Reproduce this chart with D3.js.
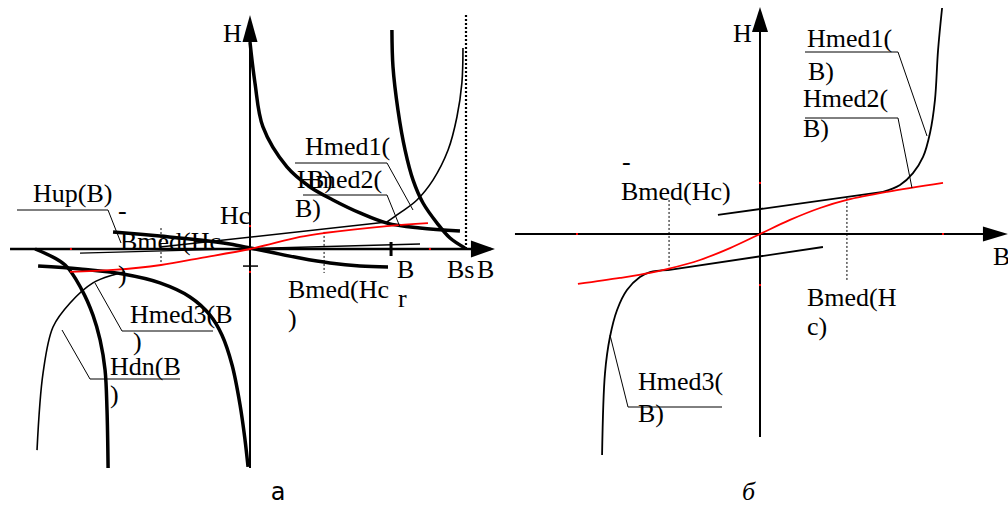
<!DOCTYPE html>
<html>
<head>
<meta charset="utf-8">
<script src="https://cdn.jsdelivr.net/npm/d3@7"></script>
<style>
  html, body { margin: 0; padding: 0; background: #fff; }
  svg { display: block; }
  .lbl { font-family: "Liberation Serif", "Times New Roman", serif; font-size: 26px; fill: #000; }
</style>
</head>
<body>
<svg id="chart" width="1008" height="506"></svg>
<script>
// ---------- Panel a: branches in normalised units [B/Bs, H] ----------
const aHmedUpper   = [[0,0.958],[0.023,0.769],[0.060,0.565],[0.171,0.380],[0.278,0.287],[0.384,0.227],[0.509,0.167],[0.634,0.120],[0.787,0.097],[0.972,0.083]];
const aHmedLower   = [[-0.981,-0.079],[-0.787,-0.093],[-0.588,-0.116],[-0.417,-0.157],[-0.278,-0.222],[-0.185,-0.306],[-0.130,-0.398],[-0.083,-0.537],[-0.046,-0.722],[-0.023,-0.884],[-0.009,-1.009]];
const aSteepRight  = [[0.657,1.014],[0.662,0.843],[0.685,0.644],[0.718,0.458],[0.755,0.319],[0.801,0.213],[0.866,0.120],[0.926,0.051],[0.995,0.005]];
const aSteepLeft   = [[-0.995,0],[-0.856,-0.074],[-0.778,-0.190],[-0.727,-0.306],[-0.694,-0.421],[-0.671,-0.560],[-0.662,-0.745],[-0.657,-1.014]];
const aHup         = [[-0.634,0.079],[-0.417,0.060],[-0.231,0.042],[-0.093,0.023],[0,0.005],[0.093,-0.014],[0.231,-0.042],[0.370,-0.065],[0.509,-0.079],[0.639,-0.083]];
const aBmedRed     = [[-0.833,-0.106],[-0.634,-0.097],[-0.412,-0.074],[-0.231,-0.042],[0,0],[0.231,0.056],[0.343,0.074],[0.634,0.106],[0.824,0.120]];
const aThinUpper   = [[0.986,0.931],[0.981,0.769],[0.958,0.611],[0.917,0.458],[0.847,0.319],[0.773,0.227],[0.694,0.167],[0.634,0.125]];
const aThinUpperTangent = [[0.634,0.125],[-0.417,0.009]];
const aThinLower   = [[-0.986,-0.931],[-0.958,-0.574],[-0.912,-0.361],[-0.833,-0.250],[-0.727,-0.157],[-0.634,-0.120],[-0.579,-0.106]];
const aChord       = [[-0.787,-0.019],[0.787,0.023]];
const aBsLine      = [[1,0],[1,1.083]];
const aBmedMinus   = [[-0.412,0.097],[-0.412,-0.074]];
const aBmedPlus    = [[0.343,0.079],[0.343,-0.111]];
const aBr          = 0.653;
const aHcNeg       = -0.079;
const aRedTicksB   = [-0.829, 0.833];
const aRedTicksH   = [0.106, -0.106];
const aBRange      = [-1.111, 1.134];
const aHRange      = [-1.014, 1.083];

// ---------- Panel б ----------
const bBmedRed     = [[-0.995,-0.273],[-0.765,-0.240],[-0.601,-0.213],[-0.503,-0.191],[-0.328,-0.142],[-0.164,-0.077],[0,0],[0.164,0.077],[0.328,0.142],[0.475,0.186],[0.694,0.230],[1.0,0.279]];
const bUpperTangent = [[-0.230,0.104],[0.672,0.230]];
const bHmed1       = [[0.672,0.230],[0.765,0.268],[0.836,0.333],[0.891,0.421],[0.929,0.552],[0.956,0.732],[0.973,1.005],[0.995,1.235]];
const bLowerTangent = [[0.344,-0.071],[-0.503,-0.197]];
const bHmed3       = [[-0.503,-0.197],[-0.601,-0.208],[-0.656,-0.235],[-0.727,-0.306],[-0.781,-0.415],[-0.820,-0.563],[-0.847,-0.760],[-0.863,-1.208]];
const bBmedMinus   = [[-0.497,0.186],[-0.497,-0.197]];
const bBmedPlus    = [[0.475,0.197],[0.475,-0.251]];
const bRedTicksB   = [-1, 1];
const bRedTicksH   = [0.279, -0.279];
const bBRange      = [-1.339, 1.355];
const bHRange      = [-1.109, 1.240];

const svg = d3.select("#chart");

// scales of each panel
const ax = d3.scaleLinear().domain([-1, 1]).range([34, 466]);
const ay = d3.scaleLinear().domain([-1, 1]).range([465, 33]);
const bx = d3.scaleLinear().domain([-1, 1]).range([577, 943]);
const by = d3.scaleLinear().domain([-1, 1]).range([417, 51]);

function smooth(xs, ys) {
  return d3.line().x(d => xs(d[0])).y(d => ys(d[1])).curve(d3.curveCatmullRom.alpha(0.5));
}
function straight(xs, ys) {
  return d3.line().x(d => xs(d[0])).y(d => ys(d[1]));
}
function draw(g, gen, data, stroke, width, dash) {
  const p = g.append("path").attr("d", gen(data))
    .attr("fill", "none").attr("stroke", stroke).attr("stroke-width", width)
    .attr("stroke-linecap", "butt").attr("stroke-linejoin", "round");
  if (dash) p.attr("stroke-dasharray", dash);
  return p;
}
function axes(g, xs, ys, bRange, hRange, w, hArrow, bArrow) {
  const x0 = xs(0), y0 = ys(0);
  g.append("line").attr("x1", xs(bRange[0])).attr("x2", xs(bRange[1]) - 4)
    .attr("y1", y0).attr("y2", y0).attr("stroke", "#000").attr("stroke-width", w.b);
  g.append("line").attr("x1", x0).attr("x2", x0)
    .attr("y1", ys(hRange[0])).attr("y2", ys(hRange[1]) + 4)
    .attr("stroke", "#000").attr("stroke-width", w.h);
  const tx = xs(bRange[1]), ty = ys(hRange[1]);
  g.append("path").attr("d", `M${tx},${y0} L${tx - bArrow.len},${y0 - bArrow.half} L${tx - bArrow.len},${y0 + bArrow.half} Z`).attr("fill", "#000");
  g.append("path").attr("d", `M${x0},${ty} L${x0 - hArrow.half},${ty + hArrow.len} L${x0 + hArrow.half},${ty + hArrow.len} Z`).attr("fill", "#000");
}
function label(g, x, y, t, opts = {}) {
  const el = g.append("text").attr("class", "lbl").attr("x", x).attr("y", y).text(t);
  if (opts.anchor) el.attr("text-anchor", opts.anchor);
  if (opts.family) el.style("font-family", opts.family);
  if (opts.size) el.style("font-size", opts.size + "px");
  if (opts.italic) el.style("font-style", "italic");
  return el;
}
function leader(g, pts) {
  g.append("polyline").attr("points", pts.map(p => p.join(",")).join(" "))
    .attr("fill", "none").attr("stroke", "#000").attr("stroke-width", 1);
}

// ================= Panel a =================
const ga = svg.append("g");
const sa = smooth(ax, ay), la = straight(ax, ay);

axes(ga, ax, ay, aBRange, aHRange, { b: 2.5, h: 2 }, { len: 27, half: 7.5 }, { len: 24, half: 8.5 });

// reference dotted verticals
draw(ga, la, aBsLine, "#000", 2.2, "2,2");
draw(ga, la, aBmedMinus, "#000", 1, "2,2");
draw(ga, la, aBmedPlus, "#000", 1, "2,2");

// thin median branches and chord
draw(ga, sa, aThinUpper, "#000", 1.6);
draw(ga, la, aThinUpperTangent, "#000", 1.4);
draw(ga, sa, aThinLower, "#000", 1.6);
draw(ga, la, aChord, "#000", 1.4);

// thick branches
draw(ga, sa, aHmedUpper, "#000", 3.5);
draw(ga, sa, aHmedLower, "#000", 3.5);
draw(ga, sa, aSteepRight, "#000", 3.5);
draw(ga, sa, aSteepLeft, "#000", 3.5);
draw(ga, sa, aHup, "#000", 3.5);

// red median curve
draw(ga, sa, aBmedRed, "#ff0000", 1.8);

// ticks: remanence Br and -Hc
ga.append("line").attr("x1", ax(aBr)).attr("x2", ax(aBr))
  .attr("y1", ay(0) - 7).attr("y2", ay(0) + 7).attr("stroke", "#000").attr("stroke-width", 3);
ga.append("line").attr("x1", ax(0) - 7).attr("x2", ax(0) + 8)
  .attr("y1", ay(aHcNeg)).attr("y2", ay(aHcNeg)).attr("stroke", "#000").attr("stroke-width", 1.5);
aRedTicksB.forEach(b => ga.append("rect").attr("x", ax(b) - 1).attr("y", ay(0) - 1).attr("width", 2).attr("height", 2).attr("fill", "#f00"));
aRedTicksH.forEach(h => ga.append("rect").attr("x", ax(0) - 1).attr("y", ay(h) - 1).attr("width", 2).attr("height", 2).attr("fill", "#f00"));

// labels
label(ga, 223, 42, "H");
label(ga, 33, 202, "Hup(B)");
leader(ga, [[17, 210], [108, 210], [121, 243]]);
label(ga, 118, 219, "-");
label(ga, 120, 250, "Bmed(Hc");
label(ga, 118, 283, ")");
label(ga, 220, 224, "Hc");
label(ga, 305, 155, "Hmed1(");
leader(ga, [[295, 163], [387, 163], [413, 210]]);
label(ga, 297, 188, "Hmed2(");
label(ga, 307, 188, "B)");
leader(ga, [[303, 195], [387, 195], [400, 227]]);
label(ga, 295, 217, "B)");
label(ga, 397, 278, "B");
label(ga, 398, 307, "r");
label(ga, 447, 278, "Bs");
label(ga, 477, 278, "B");
label(ga, 288, 298, "Bmed(Hc");
label(ga, 288, 327, ")");
label(ga, 130, 323, "Hmed3(B");
leader(ga, [[95, 283], [122, 331], [213, 331]]);
label(ga, 133, 350, ")");
label(ga, 110, 375, "Hdn(B");
leader(ga, [[62, 330], [90, 379], [180, 379]]);
label(ga, 110, 403, ")");
label(ga, 278, 500, "a", { anchor: "middle", family: "'DejaVu Sans', sans-serif", size: 24 });

// ================= Panel б =================
const gb = svg.append("g");
const sb = smooth(bx, by), lb = straight(bx, by);

axes(gb, bx, by, bBRange, bHRange, { b: 2, h: 2 }, { len: 25, half: 8 }, { len: 25, half: 7.5 });

draw(gb, lb, bBmedMinus, "#000", 1, "2,2");
draw(gb, lb, bBmedPlus, "#000", 1, "2,2");

draw(gb, lb, bUpperTangent, "#000", 1.8);
draw(gb, sb, bHmed1, "#000", 1.8);
draw(gb, lb, bLowerTangent, "#000", 1.8);
draw(gb, sb, bHmed3, "#000", 1.8);
draw(gb, sb, bBmedRed, "#ff0000", 1.8);

bRedTicksB.forEach(b => gb.append("rect").attr("x", bx(b) - 1).attr("y", by(0) - 1).attr("width", 2).attr("height", 2).attr("fill", "#f00"));
bRedTicksH.forEach(h => gb.append("rect").attr("x", bx(0) - 1).attr("y", by(h) - 1).attr("width", 2).attr("height", 2).attr("fill", "#f00"));

label(gb, 733, 42, "H");
label(gb, 807, 47, "Hmed1(");
leader(gb, [[805, 52], [898, 52], [927, 136]]);
label(gb, 808, 80, "B)");
label(gb, 803, 107, "Hmed2(");
leader(gb, [[805, 118], [898, 118], [912, 188]]);
label(gb, 803, 137, "B)");
label(gb, 622, 170, "-");
label(gb, 621, 200, "Bmed(Hc)");
label(gb, 807, 306, "Bmed(H");
label(gb, 807, 335, "c)");
label(gb, 638, 390, "Hmed3(");
label(gb, 638, 422, "B)");
leader(gb, [[610, 335], [628, 407], [722, 407]]);
label(gb, 993, 265, "B");
label(gb, 742, 500, "б", { italic: true, size: 26 });
</script>
</body>
</html>
